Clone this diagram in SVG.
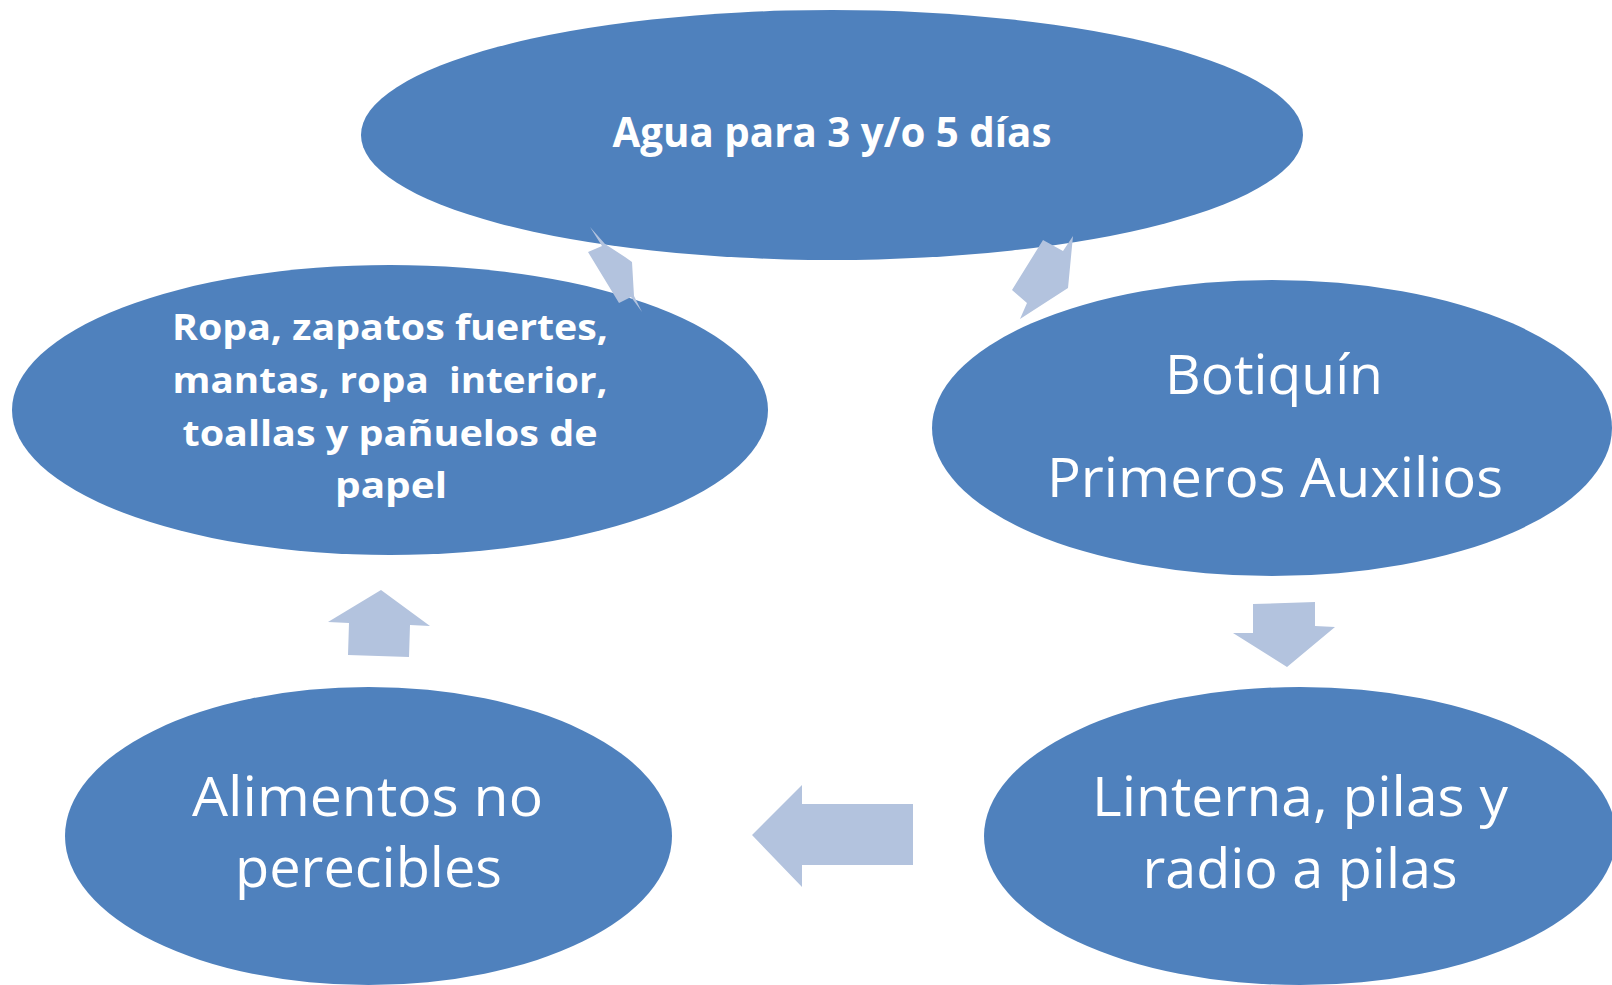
<svg xmlns="http://www.w3.org/2000/svg" width="1612" height="985" viewBox="0 0 1612 985">
<style>
.node{fill:#4F81BD}
.arrow{fill:#B3C3DE}
.t{font-family:"Open Sans","Noto Sans","Liberation Sans",sans-serif;fill:#FFFFFF;text-anchor:middle}
.b{font-weight:bold;font-size:41px}
.bs{font-weight:bold;font-size:36px}
.r{font-size:55px}
</style>
<rect width="1612" height="985" fill="#FFFFFF"/>
<g id="agua">
<ellipse class="node" cx="832" cy="135" rx="471" ry="125"/>
<text class="t b" x="832" y="147" textLength="439" lengthAdjust="spacingAndGlyphs">Agua para 3 y/o 5 días</text>
</g>
<g id="ropa">
<ellipse class="node" cx="390" cy="410" rx="378" ry="145"/>
<text class="t bs" x="390" y="340" textLength="436" lengthAdjust="spacingAndGlyphs">Ropa, zapatos fuertes,</text>
<text class="t bs" x="390" y="393" textLength="435" lengthAdjust="spacingAndGlyphs" xml:space="preserve">mantas, ropa  interior,</text>
<text class="t bs" x="390" y="446" textLength="415" lengthAdjust="spacingAndGlyphs">toallas y pañuelos de</text>
<text class="t bs" x="391" y="498" textLength="112" lengthAdjust="spacingAndGlyphs">papel</text>
</g>
<g id="botiquin">
<ellipse class="node" cx="1272" cy="428" rx="340" ry="148"/>
<text class="t r" x="1274" y="394" textLength="218" lengthAdjust="spacingAndGlyphs">Botiquín</text>
<text class="t r" x="1275" y="497" textLength="456" lengthAdjust="spacingAndGlyphs">Primeros Auxilios</text>
</g>
<g id="linterna">
<ellipse class="node" cx="1300" cy="836" rx="316" ry="149"/>
<text class="t r" x="1300" y="816" textLength="416" lengthAdjust="spacingAndGlyphs">Linterna, pilas y</text>
<text class="t r" x="1300" y="888" textLength="315" lengthAdjust="spacingAndGlyphs">radio a pilas</text>
</g>
<g id="alimentos">
<ellipse class="node" cx="368.5" cy="836" rx="303.5" ry="149"/>
<text class="t r" x="367.5" y="816" textLength="351" lengthAdjust="spacingAndGlyphs">Alimentos no</text>
<text class="t r" x="368.5" y="887" textLength="267" lengthAdjust="spacingAndGlyphs">perecibles</text>
</g>
<g id="connectors">
<polygon class="arrow" points="590,227 605,244 625,257 632,262 634,296 642,312 631,297 619,303 588,252 602,246"/>
<polygon class="arrow" points="1043,240 1063,251 1073,236 1068,288 1020,319 1027,303 1012,290"/>
<polygon class="arrow" points="1253,604 1315,602 1315,626 1335,627 1287,667 1233,633 1253,633"/>
<polygon class="arrow" points="381,590 430,626 410,625 409,657 348,655 349,623 328,622"/>
<polygon class="arrow" points="752,835 802,785 802,804 913,804 913,865 802,865 802,887"/>
</g>
</svg>
